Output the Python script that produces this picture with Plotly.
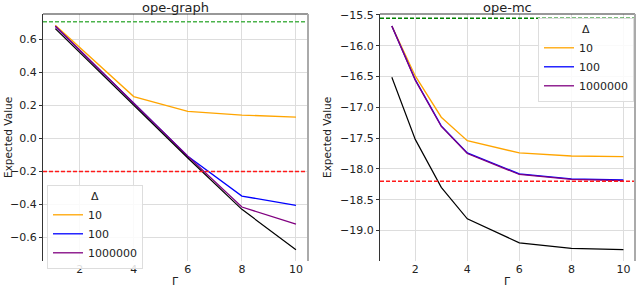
import plotly.graph_objects as go

# ---- data ----
gamma = [1.1, 2, 3, 4, 6, 8, 10]
delta_labels = ["10", "100", "1000000"]

graph_d10 = [0.686, 0.552, 0.403, 0.254, 0.164, 0.142, 0.130]
graph_d100 = [0.680, 0.535, 0.374, 0.214, -0.108, -0.349, -0.405]
graph_d1e6 = [0.680, 0.535, 0.374, 0.214, -0.108, -0.415, -0.519]
graph_base = [0.665, 0.522, 0.364, 0.205, -0.118, -0.429, -0.674]
graph_upper = 0.707
graph_lower = -0.2

mc_d10 = [-15.68, -16.49, -17.16, -17.54, -17.74, -17.79, -17.80]
mc_d100 = [-15.68, -16.55, -17.30, -17.74, -18.08, -18.16, -18.18]
mc_d1e6 = [-15.68, -16.56, -17.31, -17.75, -18.09, -18.17, -18.19]
mc_base = [-16.51, -17.52, -18.30, -18.81, -19.20, -19.29, -19.31]
mc_upper = -15.554
mc_lower = -18.2

colors = ["#FFA500", "#0000FF", "#800080"]
FONT = "DejaVu Sans"

# layout geometry (pixels)
W, H = 640, 288
ML, MR, MT, MB = 43, 5, 14, 27
PW, PH = W - ML - MR, H - MT - MB

def px_x(p):
    return (p - ML) / PW

def px_y(p):
    return (H - MB - p) / PH

fig = go.Figure()

def add_panel(xa, ya, series, base, legend_name):
    for name, vals, col in zip(delta_labels, series, colors):
        fig.add_trace(go.Scatter(x=gamma, y=vals, mode="lines", name=name,
                                 line=dict(color=col, width=1.3),
                                 xaxis=xa, yaxis=ya, legend=legend_name))
    fig.add_trace(go.Scatter(x=gamma, y=base, mode="lines", showlegend=False,
                             line=dict(color="black", width=1.2),
                             xaxis=xa, yaxis=ya))

add_panel("x", "y", [graph_d10, graph_d100, graph_d1e6], graph_base, "legend")
add_panel("x2", "y2", [mc_d10, mc_d100, mc_d1e6], mc_base, "legend2")

shapes = []
for xr, yr, up, lo, gcol in [("x", "y", graph_upper, graph_lower, "#4cb34c"),
                             ("x2", "y2", mc_upper, mc_lower, "#008000")]:
    shapes.append(dict(type="line", xref=f"{xr} domain", yref=yr, x0=0, x1=1,
                       y0=up, y1=up, line=dict(color=gcol, width=1.4, dash="4px,2px")))
    shapes.append(dict(type="line", xref=f"{xr} domain", yref=yr, x0=0, x1=1,
                       y0=lo, y1=lo, line=dict(color="#ff1a1a", width=1.4, dash="4px,2px")))
    shapes.append(dict(type="line", xref=f"{xr} domain", yref=f"{yr} domain", x0=0, x1=1,
                       y0=1, y1=1, line=dict(color="#333333", width=1.2)))
    shapes.append(dict(type="line", xref=f"{xr} domain", yref=f"{yr} domain", x0=1, x1=1,
                       y0=0, y1=1, line=dict(color="#aaaaaa", width=2)))

axis_common = dict(showgrid=True, gridcolor="#dddddd", gridwidth=1, zeroline=False,
                   automargin=False,
                   tickfont=dict(family=FONT, size=11, color="#222222"))

xcommon = dict(axis_common, tickmode="array", tickvals=[2, 4, 6, 8, 10],
               ticks="", showline=False)
ycommon = dict(axis_common, ticks="outside", ticklen=3, tickcolor="#333333",
               showline=True, linecolor="#333333", linewidth=1.2)

legend_common = dict(bgcolor="rgba(255,255,255,0.85)", bordercolor="#dddddd", borderwidth=1,
                     font=dict(family=FONT, size=11), tracegroupgap=0, itemwidth=30,
                     title=dict(text="Δ", side="top center", font=dict(family=FONT, size=11)))

title_font = dict(family=FONT, size=13, color="#222222")
label_font = dict(family=FONT, size=10.5, color="#222222")

fig.update_layout(
    width=W, height=H,
    margin=dict(l=ML, r=MR, t=MT, b=MB),
    paper_bgcolor="white", plot_bgcolor="white",
    font=dict(family=FONT, size=11, color="#222222"),
    xaxis=dict(xcommon, domain=[0, px_x(308)], range=[0.645, 10.445], anchor="y"),
    yaxis=dict(ycommon, domain=[0, 1], range=[-0.742, 0.754],
               tickvals=[-0.6, -0.4, -0.2, 0.0, 0.2, 0.4, 0.6], tickformat=".1f", anchor="x"),
    xaxis2=dict(xcommon, domain=[px_x(380), 1], range=[0.645, 10.445], anchor="y2"),
    yaxis2=dict(ycommon, domain=[0, 1], range=[-19.495, -15.484],
                tickvals=[-19.5, -19.0, -18.5, -18.0, -17.5, -17.0, -16.5, -16.0, -15.5],
                tickformat=".1f", anchor="x2"),
    shapes=shapes,
    legend=dict(legend_common, x=px_x(47), y=px_y(185), xanchor="left", yanchor="top"),
    legend2=dict(legend_common, x=px_x(634), y=px_y(18), xanchor="right", yanchor="top"),
    annotations=[
        dict(text="ope-graph", xref="x domain", yref="paper", x=0.5, y=px_y(7),
             xanchor="center", yanchor="middle", showarrow=False, font=title_font),
        dict(text="ope-mc", xref="x2 domain", yref="paper", x=0.5, y=px_y(7),
             xanchor="center", yanchor="middle", showarrow=False, font=title_font),
        dict(text="Γ", xref="x domain", yref="paper", x=0.5, y=px_y(281),
             xanchor="center", yanchor="middle", showarrow=False,
             font=dict(family=FONT, size=11, color="#222222")),
        dict(text="Γ", xref="x2 domain", yref="paper", x=0.5, y=px_y(281),
             xanchor="center", yanchor="middle", showarrow=False,
             font=dict(family=FONT, size=11, color="#222222")),
        dict(text="Expected Value", xref="paper", yref="paper", x=px_x(8), y=px_y(138),
             xanchor="center", yanchor="middle", textangle=-90, showarrow=False, font=label_font),
        dict(text="Expected Value", xref="paper", yref="paper", x=px_x(327), y=px_y(138),
             xanchor="center", yanchor="middle", textangle=-90, showarrow=False, font=label_font),
    ],
)

fig.write_html("out.html", config={"displayModeBar": False},
               post_script="document.body.style.margin='0';document.body.style.padding='0';")
